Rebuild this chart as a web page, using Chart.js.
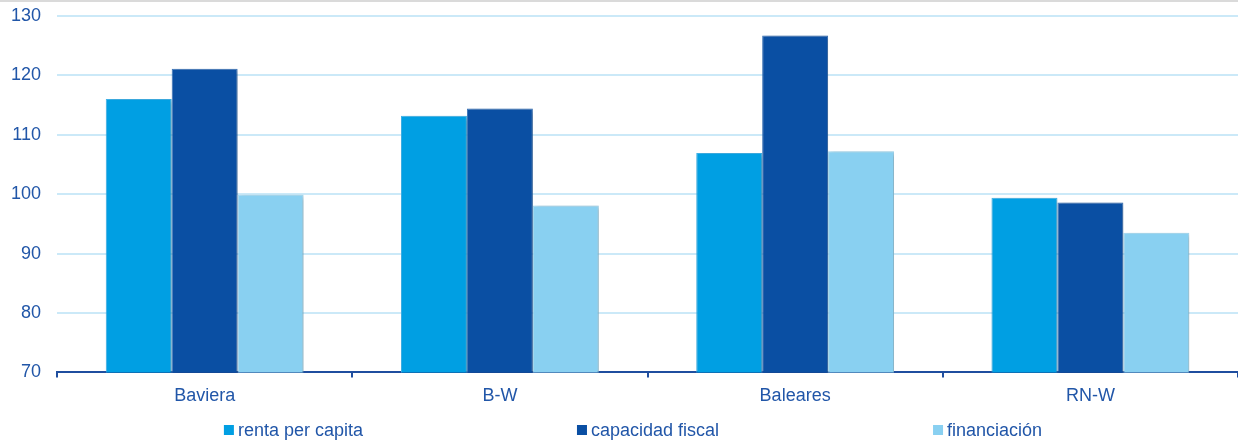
<!DOCTYPE html>
<html>
<head>
<meta charset="utf-8">
<script src="https://cdn.jsdelivr.net/npm/chart.js@4/dist/chart.umd.min.js"></script>
<style>
html,body{margin:0;padding:0;background:#fff;}
#wrap{width:1238px;height:439px;border-top:2px solid #dadada;position:relative;overflow:hidden;}
#c{display:block;margin-top:-13px;}
</style>
</head>
<body>
<div id="wrap"><canvas id="c" width="1238" height="452"></canvas></div>
<script>
const categories = ["Baviera", "B-W", "Baleares", "RN-W"];
const rentaPerCapita = [116.0, 113.2, 106.9, 99.4];
const capacidadFiscal = [121.1, 114.4, 126.7, 98.6];
const financiacion = [99.9, 98.1, 107.2, 93.5];
const seriesNames = ["renta per capita", "capacidad fiscal", "financiación"];
const seriesColors = ['#009fe3', '#0a4fa3', '#89d0f1'];
const yTicks = [70, 80, 90, 100, 110, 120, 130];

const textColor = '#2156a8';
const FONT = '"Liberation Sans", Arial, sans-serif';

const shadowPlugin = {
  id: 'barShadow',
  beforeDatasetsDraw(chart) {
    const ctx = chart.ctx;
    ctx.save();
    ctx.shadowColor = 'rgba(0,0,0,0.28)';
    ctx.shadowBlur = 5;
    ctx.shadowOffsetX = 2;
    ctx.shadowOffsetY = 1;
  },
  afterDatasetsDraw(chart) {
    chart.ctx.restore();
  }
};

const legendPlugin = {
  id: 'customLegend',
  afterDraw(chart) {
    const ctx = chart.ctx;
    ctx.save();
    ctx.font = '18px ' + FONT;
    ctx.textBaseline = 'middle';
    const box = 10, gapText = 4, gap = 214;
    const widths = seriesNames.map(n => box + gapText + ctx.measureText(n).width);
    const total = widths.reduce((a, b) => a + b, 0) + gap * (widths.length - 1);
    let x = 633 - total / 2;
    const y = chart.height - 11;
    seriesNames.forEach((n, i) => {
      ctx.fillStyle = seriesColors[i];
      ctx.fillRect(x, y - box / 2, box, box);
      ctx.fillStyle = textColor;
      ctx.fillText(n, x + box + gapText, y + 1);
      x += widths[i] + gap;
    });
    ctx.restore();
  }
};

new Chart(document.getElementById('c'), {
  type: 'bar',
  data: {
    labels: categories,
    datasets: [
      { label: seriesNames[0], data: rentaPerCapita, backgroundColor: seriesColors[0], borderColor: '#3fb3ea', borderWidth: 1 },
      { label: seriesNames[1], data: capacidadFiscal, backgroundColor: seriesColors[1], borderColor: '#3a74ba', borderWidth: 1 },
      { label: seriesNames[2], data: financiacion, backgroundColor: seriesColors[2], borderColor: '#a3dbf4', borderWidth: 1 }
    ]
  },
  options: {
    responsive: false,
    animation: false,
    devicePixelRatio: 1,
    layout: { padding: { top: 0, right: 0, left: -5, bottom: 26 } },
    datasets: { bar: { categoryPercentage: 0.67, barPercentage: 1.0 } },
    scales: {
      x: {
        offset: true,
        grid: { display: true, offset: true, drawOnChartArea: false, drawTicks: true, tickLength: 5, color: '#1f4e9f', lineWidth: 2 },
        border: { display: true, color: '#1f4e9f', width: 2 },
        ticks: { color: textColor, font: { family: FONT, size: 18 }, padding: 8 }
      },
      y: {
        min: 70, max: 130,
        afterBuildTicks(axis) { axis.ticks = yTicks.map(v => ({ value: v })); },
        grid: { color: '#cbe9f8', lineWidth: 2, drawTicks: false },
        border: { display: false },
        ticks: { color: textColor, font: { family: FONT, size: 18 }, padding: 16 }
      }
    },
    plugins: {
      legend: { display: false },
      tooltip: { enabled: false }
    }
  },
  plugins: [shadowPlugin, legendPlugin]
});
</script>
</body>
</html>
